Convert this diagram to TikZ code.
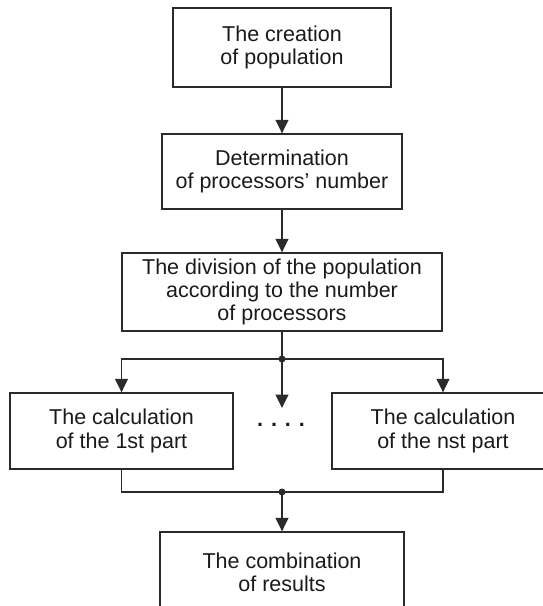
\documentclass[tikz,border=0pt]{standalone}
\usepackage{fontspec}
\setmainfont{Liberation Sans}
\usetikzlibrary{arrows.meta}
\definecolor{ln}{HTML}{2A2A2A}
\definecolor{tx}{HTML}{1A1A1A}
\begin{document}
\begin{tikzpicture}[x=1pt,y=-1pt,
  box/.style={draw=ln,line width=1.4pt,rectangle,inner sep=0pt,align=center,
    text=tx,font=\fontsize{21.5}{23.2}\selectfont},
  conn/.style={draw=ln,line width=1.4pt},
  arr/.style={conn,-{Triangle[length=13.5pt,width=13pt]}},
  junc/.style={circle,fill=ln,inner sep=0pt,minimum size=7pt}]
\useasboundingbox (0,0) rectangle (543,606);
\clip (0,0) rectangle (543,606);
\node[box,minimum width=218pt,minimum height=79pt] (b1) at (282,47.5) {The creation\\of population};
\node[box,minimum width=240pt,minimum height=75pt] (b2) at (282,171.5) {Determination\\of processors’ number};
\node[box,minimum width=320pt,minimum height=78pt] (b3) at (282,292) {The division of the population\\according to the number\\of processors};
\node[box,minimum width=223pt,minimum height=76pt] (bl) at (121.5,431) {The calculation\\of the 1st part};
\node[box,minimum width=222pt,minimum height=76pt] (br) at (443,431) {The calculation\\of the nst part};
\node[box,minimum width=244pt,minimum height=80pt] (bb) at (282,572) {The combination\\of results};
\node[junc] (j1) at (282,359) {};
\node[junc] (j2) at (282,492) {};
\coordinate (mid) at (282,408);
\node[text=tx,font=\bfseries\fontsize{21.5}{23}\selectfont,inner sep=0pt] (dots) at (281,425) {. . . .};
\draw[arr] (b1) -- (b2);
\draw[arr] (b2) -- (b3);
\draw[conn] (b3.south) -- (j1.center);
\draw[arr] (j1.center) -| (bl.north);
\draw[arr] (j1.center) -| (br.north);
\draw[arr] (j1.center) -- (mid);
\draw[conn] (bl.south) |- (j2.center) -| (br.south);
\draw[arr] (j2.center) -- (bb);
\end{tikzpicture}
\end{document}
